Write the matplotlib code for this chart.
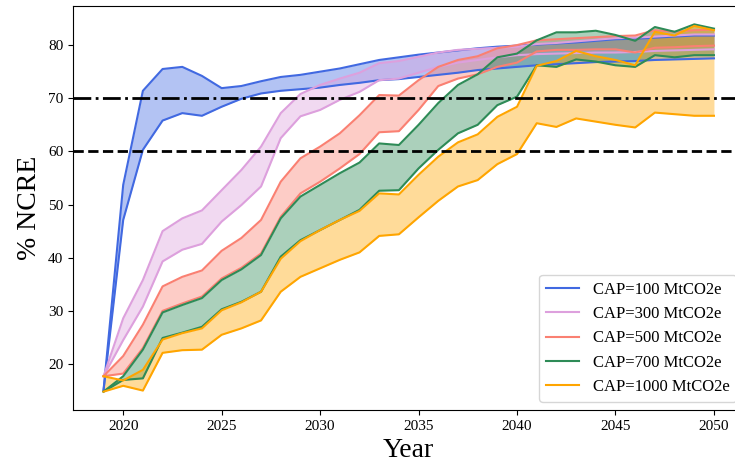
import matplotlib
matplotlib.use('Agg')
import matplotlib.pyplot as plt
import numpy as np

plt.rcParams['font.family'] = ['Liberation Serif', 'DejaVu Serif']

years = np.arange(2019, 2051)

cap100_hi = [15.0, 53.7, 71.4, 75.5, 75.9, 74.2, 71.9, 72.3, 73.2, 74.0, 74.4, 75.0,
             75.6, 76.4, 77.2, 77.7, 78.2, 78.6, 79.0, 79.4, 79.7, 79.9, 80.1, 80.3,
             80.5, 80.8, 81.1, 81.2, 81.4, 81.6, 81.8, 81.8]
cap100_lo = [15.0, 47.1, 60.3, 65.8, 67.2, 66.7, 68.4, 69.9, 70.9, 71.4, 71.7, 72.0,
             72.5, 72.9, 73.4, 73.6, 74.0, 74.4, 74.8, 75.3, 75.6, 75.9, 76.2, 76.4,
             76.6, 76.8, 76.9, 77.0, 77.2, 77.3, 77.4, 77.5]

cap300_hi = [17.7, 28.6, 35.8, 45.0, 47.4, 48.9, 52.7, 56.5, 60.9, 67.2, 70.8, 72.5,
             73.7, 74.8, 76.6, 77.0, 77.8, 78.6, 79.1, 79.3, 79.5, 79.7, 80.2, 80.4,
             80.7, 81.0, 81.3, 81.4, 81.6, 81.8, 82.0, 82.0]
cap300_lo = [17.7, 24.5, 30.8, 39.3, 41.5, 42.6, 46.8, 49.9, 53.4, 62.5, 66.6, 67.8,
             69.7, 71.2, 73.4, 73.7, 74.8, 75.9, 76.7, 77.2, 77.7, 78.1, 78.3, 78.4,
             78.5, 78.6, 78.6, 78.7, 78.9, 79.0, 79.1, 79.2]

cap500_hi = [17.7, 21.5, 27.4, 34.6, 36.4, 37.6, 41.3, 43.7, 47.1, 54.3, 58.7, 60.9,
             63.4, 66.8, 70.6, 70.5, 73.4, 75.9, 77.2, 77.9, 79.4, 80.0, 80.9, 81.1,
             81.3, 81.5, 81.7, 81.8, 82.8, 82.5, 82.8, 82.9]
cap500_lo = [17.7, 18.2, 23.0, 30.0, 31.4, 32.7, 36.1, 38.1, 40.8, 47.7, 52.1, 54.3,
             56.8, 59.5, 63.6, 63.8, 67.8, 72.3, 73.7, 74.5, 75.9, 76.7, 78.8, 79.1,
             79.1, 79.2, 79.2, 78.6, 79.5, 79.6, 79.8, 79.9]

cap700_hi = [14.8, 17.7, 22.7, 29.7, 31.1, 32.4, 35.8, 37.8, 40.5, 47.4, 51.5, 53.7,
             55.9, 57.9, 61.5, 61.2, 65.0, 69.1, 72.5, 74.5, 77.7, 78.4, 80.9, 82.4,
             82.4, 82.7, 81.9, 80.8, 83.4, 82.5, 83.9, 83.1]
cap700_lo = [14.8, 17.0, 17.3, 24.9, 25.9, 27.0, 30.3, 31.7, 33.6, 40.2, 43.3, 45.2,
             47.1, 49.0, 52.6, 52.7, 56.8, 60.3, 63.4, 65.0, 68.7, 70.3, 76.2, 75.9,
             77.3, 76.9, 76.2, 75.9, 78.1, 77.7, 78.1, 78.1]

cap1000_hi = [17.7, 16.9, 18.9, 24.6, 25.8, 26.7, 30.1, 31.6, 33.6, 39.8, 43.1, 45.2,
              47.1, 48.8, 52.1, 51.9, 55.6, 59.0, 61.7, 63.2, 66.5, 68.4, 76.1, 77.0,
              78.9, 77.9, 77.2, 76.2, 82.5, 81.8, 83.6, 82.8]
cap1000_lo = [14.8, 15.9, 15.0, 22.1, 22.6, 22.7, 25.5, 26.7, 28.2, 33.6, 36.4, 38.0,
              39.6, 41.0, 44.1, 44.4, 47.6, 50.7, 53.4, 54.6, 57.6, 59.5, 65.3, 64.6,
              66.2, 65.6, 65.0, 64.5, 67.3, 67.0, 66.7, 66.7]

labels = ['CAP=100 MtCO2e', 'CAP=300 MtCO2e', 'CAP=500 MtCO2e',
          'CAP=700 MtCO2e', 'CAP=1000 MtCO2e']
colors = ['royalblue', 'plum', 'salmon', 'seagreen', 'orange']
bands = [(cap100_hi, cap100_lo), (cap300_hi, cap300_lo), (cap500_hi, cap500_lo),
         (cap700_hi, cap700_lo), (cap1000_hi, cap1000_lo)]

fig = plt.figure(figsize=(7.35, 4.68), dpi=100)
ax = fig.add_axes([0.0993, 0.1239, 0.9136, 0.8633])

for (hi, lo), c, lab in zip(bands, colors, labels):
    ax.plot(years, hi, color=c, lw=1.5, label=lab)
    ax.plot(years, lo, color=c, lw=1.5)
    ax.fill_between(years, lo, hi, color=c, alpha=0.4, lw=0)

ax.axhline(70, color='black', ls='-.', lw=2)
ax.axhline(60, color='black', ls='--', lw=2)

ax.set_xlabel('Year', fontsize=20)
ax.set_ylabel('% NCRE', fontsize=20)
ax.tick_params(labelsize=11)
ax.legend(loc='lower right', fontsize=12)

fig.savefig('out.png', dpi=100)
